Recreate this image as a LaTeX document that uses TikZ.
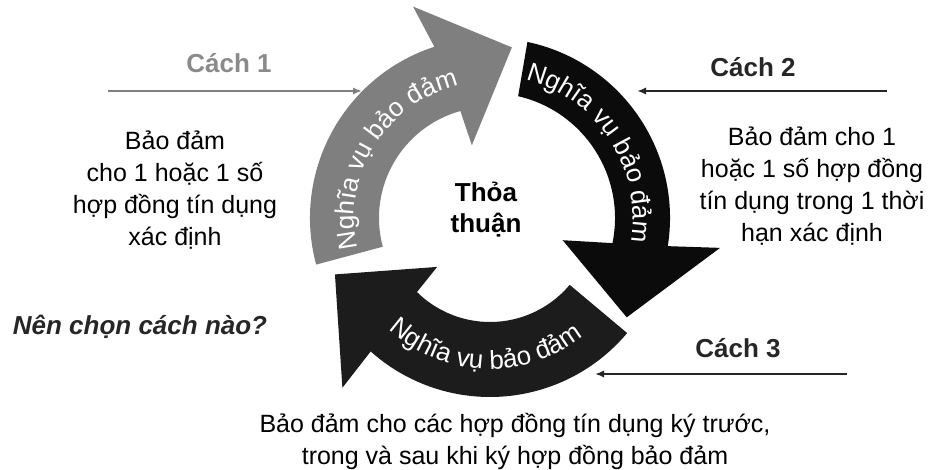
\documentclass[tikz,border=0pt]{standalone}
\usepackage{fontspec}
\setmainfont{Liberation Sans}
\usepackage{xcolor}
\usetikzlibrary{arrows.meta,positioning,decorations.text}

\definecolor{arrgray}{HTML}{7F7F7F}
\definecolor{arrblack}{HTML}{0B0B0B}
\definecolor{arrdark}{HTML}{1C1C1C}
\definecolor{lblgray}{HTML}{8A8A8A}
\definecolor{lbldark}{HTML}{262626}

\begin{document}
\begin{tikzpicture}[x=0.5pt,y=0.5pt,
  lbl/.style={font=\fontsize{13}{15}\selectfont\bfseries,text=lbldark},
  note/.style={align=center,font=\fontsize{12.5}{16}\selectfont},
  arr/.style={-{Latex[length=4.5pt,width=3.6pt]},line width=1pt,draw=lbldark},
  ringtext/.style={decorate,decoration={text along path,text align=center,
    text={|\color{white}\fontsize{13}{15}\selectfont|#1}}}
]
\useasboundingbox (0,0) rectangle (936,470);

% ring of three arrows
\begin{scope}[shift={(490,252)}]
\fill[arrgray] (195:180) arc[start angle=195,end angle=108,radius=180]
  -- (110:225) -- (82.7:172) -- (104:75) -- (105.5:111)
  arc[start angle=105.5,end angle=195,radius=111] -- cycle;
\fill[arrblack] (78:180) arc[start angle=78,end angle=-9,radius=180]
  -- (-7.4:232) -- (-36:169) -- (-17:76) -- (-11.6:125)
  arc[start angle=-11.6,end angle=77,radius=125] -- cycle;
\fill[arrdark] (-40:179) arc[start angle=-40,end angle=-131.8,radius=179]
  -- (-131:225) -- (-160:165) -- (-137.2:72) -- (-134.6:104)
  arc[start angle=-134.6,end angle=-40,radius=104] -- cycle;

\path[ringtext={Ngh{\char"0129}a vụ bảo đảm}] (200:136) arc[start angle=200,end angle=96,radius=136];
\path[ringtext={Ngh{\char"0129}a vụ bảo đảm}] (85:143) arc[start angle=85,end angle=-19,radius=143];
\path[ringtext={Ngh{\char"0129}a vụ bảo đảm}] (-139:151) arc[start angle=-139,end angle=-45,radius=151];
\end{scope}

\node[align=center,font=\fontsize{13}{15.5}\selectfont\bfseries] (deal) at (486,260) {Thỏa\\thuận};

% the three ways
\node[lbl,text=lblgray] (cach1) at (229,407) {Cách 1};
\node[lbl] (cach2) at (753,403) {Cách 2};
\node[lbl] (cach3) at (738,122) {Cách 3};

\coordinate (c1s) at (108,379);
\coordinate (c1e) at (362,379);
\coordinate (c2s) at (887,379);
\coordinate (c2e) at (637,379);
\coordinate (c3s) at (847,96);
\coordinate (c3e) at (595,96);
\draw[arr,draw=arrgray] (c1s) -- (c1e);
\draw[arr] (c2s) -- (c2e);
\draw[arr] (c3s) -- (c3e);

\node[note] (way1) at (175,280) {Bảo đảm\\cho 1 hoặc 1 số\\hợp đồng tín dụng\\xác định};
\node[note] (way2) at (812,284) {Bảo đảm cho 1\\hoặc 1 số hợp đồng\\tín dụng trong 1 thời\\hạn xác định};
\node[note] (way3) at (515,29) {Bảo đảm cho các hợp đồng tín dụng ký trước,\\trong và sau khi ký hợp đồng bảo đảm};

\node[font=\fontsize{13}{15}\selectfont\bfseries\itshape,text=lbldark] (ask) at (140,143) {Nên chọn cách nào?};
\end{tikzpicture}
\end{document}
